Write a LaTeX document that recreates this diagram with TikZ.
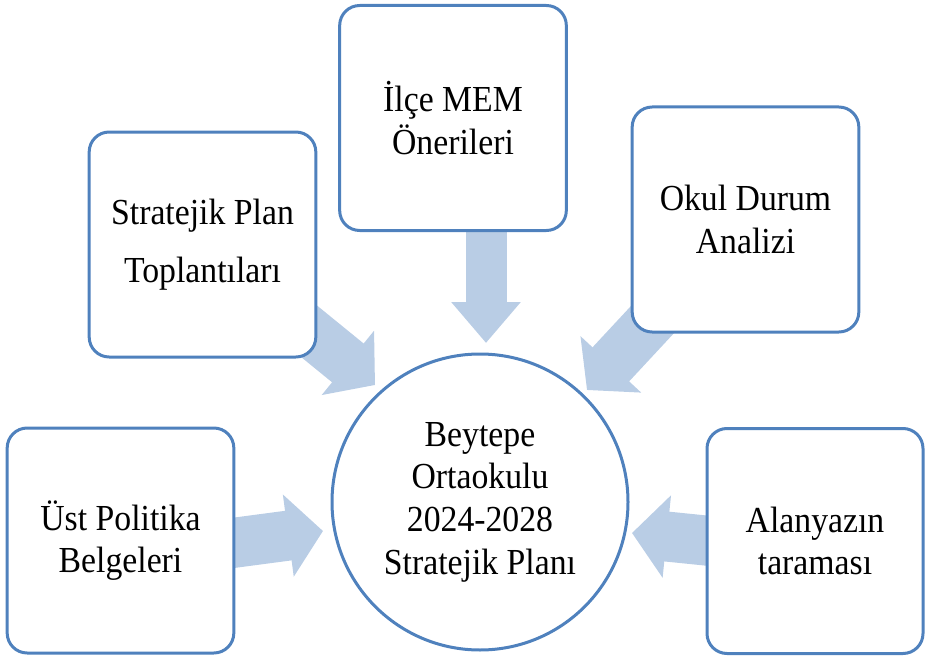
\documentclass[tikz,border=0pt]{standalone}
\usepackage{fontspec}
\setmainfont[FakeStretch=0.92]{Liberation Serif}
\usetikzlibrary{arrows.meta,backgrounds}
\definecolor{edgeblue}{HTML}{4F81BD}
\definecolor{flowblue}{HTML}{B9CDE5}
\tikzset{
  box/.style={draw=edgeblue, line width=2.25pt, fill=white, rounded corners=15pt,
    minimum width=170pt, minimum height=168.75pt, inner sep=0pt, align=center,
    font=\fontsize{27.5}{32}\selectfont},
  goal/.style={circle, draw=edgeblue, line width=2.25pt, fill=white,
    minimum size=222pt, inner sep=0pt, align=center,
    font=\fontsize{27.5}{32}\selectfont},
  flow/.style={draw=flowblue, line width=37.5pt,
    -{Triangle[length=26.25pt, width=60.75pt, fill=flowblue]}},
}
\begin{document}
\begin{tikzpicture}[x=0.75pt, y=-0.75pt]
  \useasboundingbox (0,0) rectangle (925,660);
  \node[goal] (plan) at (480,502) {Beytepe\\Ortaokulu\\2024-2028\\Stratejik Planı};
  \node[box] (ilce) at (453,118) {İlçe MEM\\Önerileri};
  \node[box] (stp) at (202.5,244.5) {Stratejik Plan\\[11.5pt]Toplantıları};
  \node[box] (okul) at (745.5,219.5) {Okul Durum\\Analizi};
  \node[box] (ust) at (120.5,540.5) {Üst Politika\\Belgeleri};
  \node[box, minimum width=162pt] (alan) at (815,541) {Alanyazın\\taraması};
  % arrow tips
  \coordinate (t1) at (486,343);
  \coordinate (t2) at (375,385);
  \coordinate (t3) at (587,390);
  \coordinate (t4) at (323,531);
  \coordinate (t5) at (632,533);
  \begin{scope}[on background layer]
    \draw[flow, line width=30.75pt, -{Triangle[length=30.75pt, width=50.25pt, fill=flowblue]}]
      (t1 |- ilce.center) -- (t1);
    \draw[flow] (stp.center) -- (t2);
    \draw[flow] (okul.center) -- (t3);
    \draw[flow] ([yshift=-13pt]ust.center) -- (t4);
    \draw[flow] ([yshift=-8pt]alan.center) -- (t5);
  \end{scope}
\end{tikzpicture}
\end{document}
